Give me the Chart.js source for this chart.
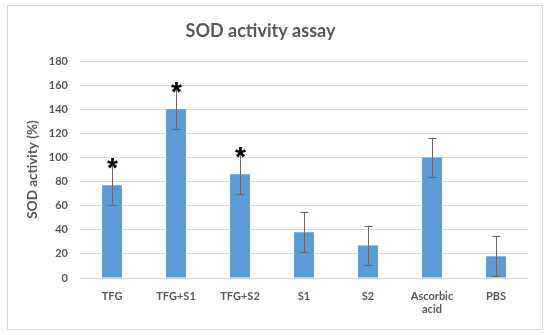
<!DOCTYPE html>
<html>
<head>
<meta charset="utf-8">
<script src="https://cdn.jsdelivr.net/npm/chart.js@4"></script>
<style>
  html, body { margin: 0; padding: 0; background: #fff; }
  #wrap { position: relative; width: 550px; height: 335px; }
</style>
</head>
<body>
<div id="wrap"><canvas id="chart" width="550" height="335"></canvas></div>
<script>
// datos del gráfico
const categories = ['TFG', 'TFG+S1', 'TFG+S2', 'S1', 'S2', ['Ascorbic', 'acid'], 'PBS'];
const sodValues = [77, 140, 86, 38, 27, 100, 18];
const sodErrors = [16.5, 16.5, 16.5, 16.5, 16.5, 16.5, 16.5];
const significant = [true, true, true, false, false, false, false];
const yTicks = [0, 20, 40, 60, 80, 100, 120, 140, 160, 180];
const chartTitle = 'SOD activity assay';

const textGray = '#595959';

// barras de error y asteriscos
const errorBarPlugin = {
    id: 'errorBars',
    afterDatasetsDraw(chart) {
        const ctx = chart.ctx;
        const meta = chart.getDatasetMeta(0);
        const y = chart.scales.y;
        ctx.save();
        meta.data.forEach((bar, i) => {
            const top = y.getPixelForValue(sodValues[i] + sodErrors[i]);
            const bottom = y.getPixelForValue(sodValues[i] - sodErrors[i]);
            const x = Math.round(bar.x) + 0.5;
            ctx.strokeStyle = '#6a6a6a';
            ctx.lineWidth = 1;
            ctx.beginPath();
            ctx.moveTo(x, top);
            ctx.lineTo(x, bottom);
            ctx.moveTo(x - 4, Math.round(top) + 0.5);
            ctx.lineTo(x + 4, Math.round(top) + 0.5);
            ctx.moveTo(x - 4, Math.round(bottom) + 0.5);
            ctx.lineTo(x + 4, Math.round(bottom) + 0.5);
            ctx.stroke();
            if (significant[i]) {
                ctx.fillStyle = '#000';
                ctx.font = 'bold 28px "Liberation Sans"';
                ctx.textAlign = 'center';
                ctx.textBaseline = 'alphabetic';
                ctx.fillText('*', x, top + 12);
            }
        });
        ctx.restore();
    }
};

// marco exterior y título
const framePlugin = {
    id: 'frame',
    beforeDraw(chart) {
        const ctx = chart.ctx;
        ctx.save();
        ctx.fillStyle = '#fff';
        ctx.fillRect(0, 0, chart.width, chart.height);
        ctx.strokeStyle = '#d9d9d9';
        ctx.lineWidth = 1;
        ctx.strokeRect(7.5, 5.5, 535, 324);
        ctx.fillStyle = textGray;
        ctx.font = 'bold 18px Lato';
        ctx.textAlign = 'center';
        ctx.textBaseline = 'middle';
        ctx.fillText(chartTitle, 260.5, 31);
        ctx.restore();
    }
};

new Chart(document.getElementById('chart'), {
    type: 'bar',
    data: {
        labels: categories,
        datasets: [{
            data: sodValues,
            backgroundColor: '#5B9BD5',
            borderWidth: 0,
            categoryPercentage: 1,
            barPercentage: 0.31
        }]
    },
    options: {
        responsive: false,
        animation: false,
        layout: { padding: { top: 61, left: 10, right: 22, bottom: 17 } },
        plugins: {
            legend: { display: false },
            tooltip: { enabled: false },
            title: { display: false }
        },
        scales: {
            x: {
                grid: { display: false, drawTicks: false },
                border: { display: false },
                ticks: {
                    color: textGray,
                    font: { family: 'Lato', size: 11, weight: 'bold' },
                    padding: 12,
                    maxRotation: 0,
                    autoSkip: false
                },
                afterFit(scale) { scale.height = 40; }
            },
            y: {
                min: 0,
                max: 180,
                afterBuildTicks(scale) { scale.ticks = yTicks.map(v => ({ value: v })); },
                grid: { color: '#d9d9d9', drawTicks: false },
                border: { display: false },
                ticks: {
                    color: textGray,
                    font: { family: 'Lato', size: 11, weight: 'bold' },
                    padding: 12
                },
                title: {
                    display: true,
                    text: 'SOD activity (%)',
                    color: textGray,
                    font: { family: 'Lato', size: 13.5, weight: 'bold' },
                    padding: { top: 15, bottom: 0 }
                },
                afterFit(scale) { scale.width = 70; }
            }
        }
    },
    plugins: [framePlugin, errorBarPlugin]
});
</script>
</body>
</html>
